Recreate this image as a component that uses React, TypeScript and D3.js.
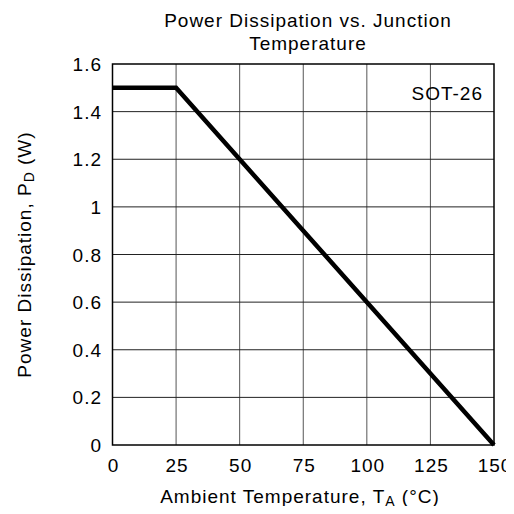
import React, { useEffect, useRef } from 'react';
import * as d3 from 'd3';

const tempPoints = [0, 25, 150];
const powerPoints = [1.5, 1.5, 0];
const xTicks = [0, 25, 50, 75, 100, 125, 150];
const yTicks = [0, 0.2, 0.4, 0.6, 0.8, 1, 1.2, 1.4, 1.6];

const App = () => {
  const ref = useRef(null);

  useEffect(() => {
    const svg = d3.select(ref.current);
    svg.selectAll('*').remove();

    const left = 112.5, right = 494, top = 64, bottom = 445;
    const font = '"Liberation Sans", Arial, Helvetica, sans-serif';
    const fs = '19px';
    const ls = '1px';

    const x = d3.scaleLinear().domain([0, 150]).range([left, right]);
    const y = d3.scaleLinear().domain([0, 1.6]).range([bottom, top]);

    svg.append('rect').attr('width', 514).attr('height', 514).attr('fill', '#fff');

    // grid
    svg.append('g')
      .selectAll('line')
      .data(xTicks.slice(1, -1))
      .enter().append('line')
      .attr('x1', d => x(d)).attr('x2', d => x(d))
      .attr('y1', top).attr('y2', bottom)
      .attr('stroke', '#555').attr('stroke-width', 1);

    svg.append('g')
      .selectAll('line')
      .data(yTicks.slice(1, -1))
      .enter().append('line')
      .attr('x1', left).attr('x2', right)
      .attr('y1', d => y(d)).attr('y2', d => y(d))
      .attr('stroke', '#222').attr('stroke-width', 1);

    svg.append('rect')
      .attr('x', left).attr('y', top)
      .attr('width', right - left).attr('height', bottom - top)
      .attr('fill', 'none').attr('stroke', '#000').attr('stroke-width', 1.5);

    // data line
    const line = d3.line<number>()
      .x((d, i) => x(tempPoints[i]))
      .y(d => y(d));

    svg.append('path')
      .datum(powerPoints)
      .attr('d', line)
      .attr('fill', 'none')
      .attr('stroke', '#000')
      .attr('stroke-width', 4.5)
      .attr('stroke-linejoin', 'miter');

    const txt = (sel) => sel
      .style('font-family', font)
      .style('font-size', fs)
      .style('letter-spacing', ls)
      .attr('fill', '#000');

    // tick labels
    svg.append('g')
      .selectAll('text')
      .data(xTicks)
      .enter().append('text')
      .attr('x', d => x(d) + 1)
      .attr('y', 472)
      .attr('text-anchor', 'middle')
      .call(txt)
      .text(d => String(d));

    svg.append('g')
      .selectAll('text')
      .data(yTicks)
      .enter().append('text')
      .attr('x', 102)
      .attr('y', d => y(d) + 7)
      .attr('text-anchor', 'end')
      .call(txt)
      .text(d => String(d));

    // title
    svg.append('text')
      .attr('x', 308).attr('y', 27)
      .attr('text-anchor', 'middle')
      .call(txt)
      .text('Power Dissipation vs. Junction');
    svg.append('text')
      .attr('x', 308).attr('y', 50)
      .attr('text-anchor', 'middle')
      .call(txt)
      .text('Temperature');

    // package label
    svg.append('text')
      .attr('x', 483).attr('y', 100)
      .attr('text-anchor', 'end')
      .call(txt)
      .text('SOT-26');

    // x axis label
    const xl = svg.append('text')
      .attr('x', 300).attr('y', 503)
      .attr('text-anchor', 'middle')
      .call(txt);
    xl.append('tspan').text('Ambient Temperature, T');
    xl.append('tspan').attr('dy', 3).style('font-size', '14px').text('A');
    xl.append('tspan').attr('dy', -3).text(' (°C)');

    // y axis label
    const yl = svg.append('text')
      .attr('transform', `translate(31,${(top + bottom) / 2}) rotate(-90)`)
      .attr('text-anchor', 'middle')
      .call(txt);
    yl.append('tspan').text('Power Dissipation, P');
    yl.append('tspan').attr('dy', 3).style('font-size', '14px').text('D');
    yl.append('tspan').attr('dy', -3).text(' (W)');
  }, []);

  return <svg ref={ref} width={514} height={514} style={{ display: 'block', margin: '-8px' }}></svg>;
};

export default App;
